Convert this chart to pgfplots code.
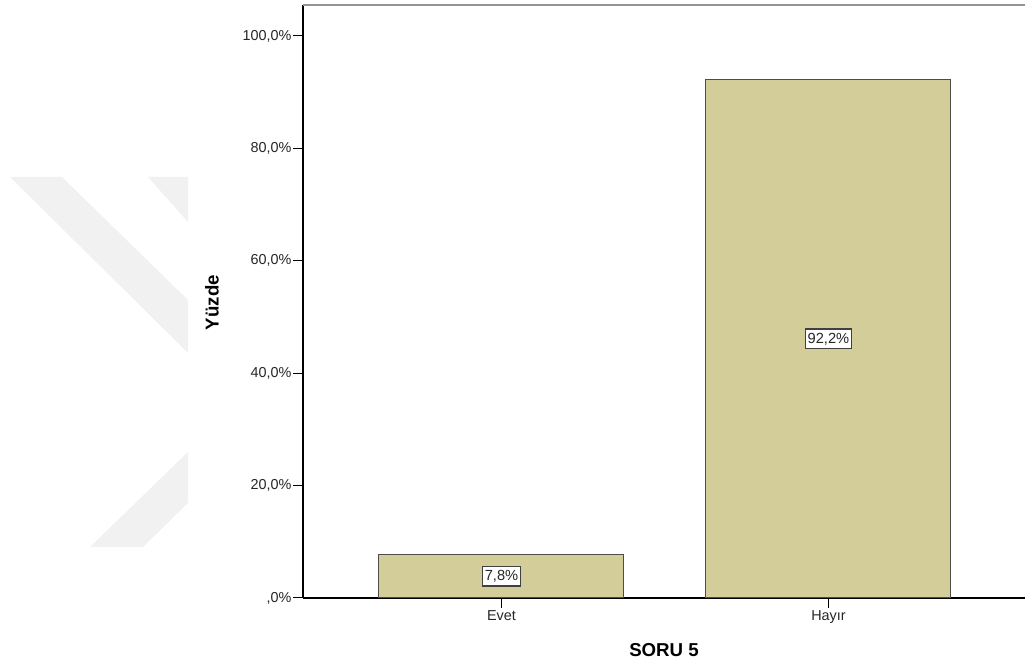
\documentclass[border=0pt]{standalone}
\usepackage{pgfplots}
\pgfplotsset{compat=1.18}
\usepackage{fontspec}
\setmainfont{Liberation Sans}
\definecolor{barfill}{RGB}{211,206,153}
\definecolor{wm}{RGB}{241,241,241}
\begin{document}
\begin{tikzpicture}
\path[use as bounding box] (0,0) rectangle (768.75pt,499.5pt);
\begin{scope}[x=0.75pt,y=0.75pt]
\fill[wm] (10,489) -- (62,489) -- (188,366) -- (188,313) -- cycle;
\fill[wm] (148,489) -- (188,489) -- (188,444) -- cycle;
\fill[wm] (90,119) -- (143,119) -- (188,163) -- (188,214) -- cycle;
\end{scope}
\begin{axis}[
  at={(227.25pt,51pt)}, anchor=south west,
  scale only axis, width=541.5pt, height=444.75pt,
  xmin=-0.607, xmax=1.601, ymin=0, ymax=105.5,
  axis x line*=bottom, axis y line*=left,
  axis line style={-, line width=0.9pt, black},
  clip=false,
  xtick={0,1}, xticklabels={Evet,Hayır},
  ytick={0,20,40,60,80,100},
  yticklabels={{,0\%},{20,0\%},{40,0\%},{60,0\%},{80,0\%},{100,0\%}},
  tick style={black, line width=0.75pt},
  major tick length=7.5pt, tick align=outside,
  ticklabel style={font=\fontsize{10.8}{13}\selectfont, text=black!85},
  yticklabel style={inner sep=1pt},
  xticklabel style={inner sep=1.5pt},
  /pgf/number format/assume math mode=true,
  xlabel={SORU 5}, ylabel={Yüzde},
  every axis x label/.style={at={(axis description cs:0.5,-0.088)}, anchor=center, font=\bfseries\fontsize{14}{16}\selectfont},
  every axis y label/.style={at={(axis description cs:-0.126,0.498)}, rotate=90, anchor=center, font=\bfseries\fontsize{14}{16}\selectfont},
]
\addplot[ybar, bar width=183.75pt, fill=barfill, draw=black!70, line width=0.75pt]
  coordinates {(0,7.8) (1,92.2)};
\addplot[draw=none, nodes near coords, point meta=explicit symbolic,
  every node near coord/.append style={fill=white, draw=black!75, line width=1pt, inner xsep=1.5pt, inner ysep=2.8pt, font=\fontsize{11}{13}\selectfont, text=black!85, anchor=center}]
  coordinates {(0,3.9) [7,8\%] (1,46.1) [92,2\%]};
\draw[black!42, line width=1.5pt] (rel axis cs:0,1) -- (rel axis cs:1,1);
\end{axis}
\end{tikzpicture}
\end{document}
